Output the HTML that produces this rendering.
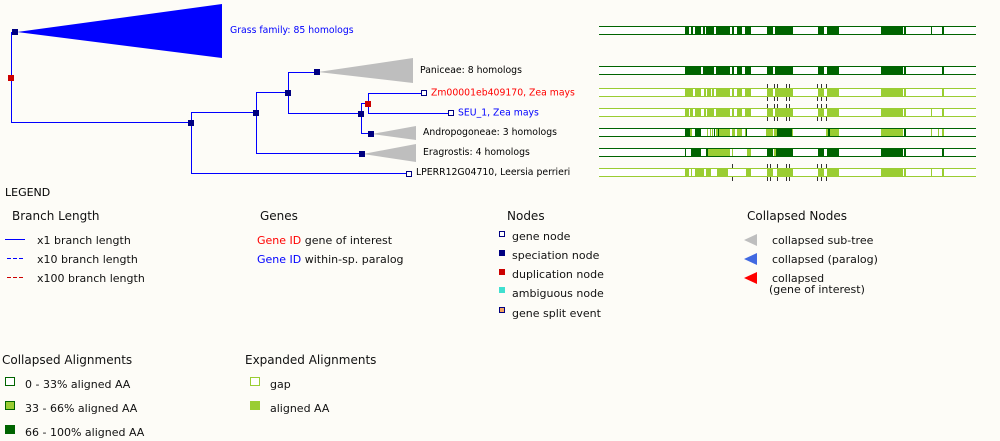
<!DOCTYPE html>
<html><head><meta charset="utf-8">
<style>
html,body{margin:0;padding:0;background:#fdfcf7;}
svg{display:block;}
text{font-family:"DejaVu Sans","Liberation Sans",sans-serif;}
</style></head>
<body>
<svg width="1000" height="441" viewBox="0 0 1000 441" xmlns="http://www.w3.org/2000/svg">
<rect x="0" y="0" width="1000" height="441" fill="#fdfcf7"/>

<!-- TREE -->
<polygon points="17,32 222,4 222,58" fill="#0000ff"/>
<polygon points="318,72 413,58 413,83" fill="#bebebe"/>
<polygon points="372,134 416,126 416,140" fill="#bebebe"/>
<polygon points="363,154 416,144 416,162" fill="#bebebe"/>

<g stroke="#0000ff" stroke-width="1" fill="none" shape-rendering="crispEdges">
<line x1="11.5" y1="32" x2="11.5" y2="123"/>
<line x1="11" y1="32.5" x2="15" y2="32.5"/>
<line x1="11" y1="122.5" x2="191" y2="122.5"/>
<line x1="191.5" y1="112" x2="191.5" y2="174"/>
<line x1="191" y1="112.5" x2="256" y2="112.5"/>
<line x1="191" y1="173.5" x2="408" y2="173.5"/>
<line x1="256.5" y1="92" x2="256.5" y2="154"/>
<line x1="256" y1="92.5" x2="288" y2="92.5"/>
<line x1="256" y1="153.5" x2="361" y2="153.5"/>
<line x1="288.5" y1="72" x2="288.5" y2="114"/>
<line x1="288" y1="72.5" x2="317" y2="72.5"/>
<line x1="288" y1="113.5" x2="361" y2="113.5"/>
<line x1="361.5" y1="104" x2="361.5" y2="134"/>
<line x1="361" y1="103.5" x2="368" y2="103.5"/>
<line x1="361" y1="133.5" x2="371" y2="133.5"/>
<line x1="368.5" y1="93" x2="368.5" y2="114"/>
<line x1="368" y1="93.5" x2="424" y2="93.5"/>
<line x1="368" y1="113.5" x2="451" y2="113.5"/>
</g>

<g shape-rendering="crispEdges">
<rect x="8" y="75" width="6" height="6" fill="#cc0000"/>
<rect x="12" y="29" width="6" height="6" fill="#000080"/>
<rect x="188" y="120" width="6" height="6" fill="#000080"/>
<rect x="253" y="110" width="6" height="6" fill="#000080"/>
<rect x="285" y="90" width="6" height="6" fill="#000080"/>
<rect x="314" y="69" width="6" height="6" fill="#000080"/>
<rect x="358" y="111" width="6" height="6" fill="#000080"/>
<rect x="368" y="131" width="6" height="6" fill="#000080"/>
<rect x="359" y="151" width="6" height="6" fill="#000080"/>
<rect x="365" y="101" width="6" height="6" fill="#cc0000"/>
<rect x="421.5" y="90.5" width="5" height="5" fill="#fff" stroke="#000080"/>
<rect x="448.5" y="110.5" width="5" height="5" fill="#fff" stroke="#000080"/>
<rect x="406.5" y="171.5" width="5" height="5" fill="#fff" stroke="#000080"/>
</g>

<g font-size="9.3">
<text x="230" y="33" fill="#0000ff">Grass family: 85 homologs</text>
<text x="420" y="73" fill="#000">Paniceae: 8 homologs</text>
<text x="431" y="95.5" fill="#ff0000">Zm00001eb409170, Zea mays</text>
<text x="458" y="115.5" fill="#0000ff">SEU_1, Zea mays</text>
<text x="423" y="135" fill="#000">Andropogoneae: 3 homologs</text>
<text x="423" y="155" fill="#000">Eragrostis: 4 homologs</text>
<text x="416" y="175" fill="#000">LPERR12G04710, Leersia perrieri</text>
</g>

<!-- ALIGNMENTS -->
<g shape-rendering="crispEdges">
<!-- row 1 -->
<rect x="599" y="26" width="377" height="9" fill="#fff"/>
<g fill="#006400">
<rect x="685" y="26" width="4" height="9"/><rect x="691" y="26" width="2" height="9"/><rect x="695" y="26" width="6" height="9"/><rect x="703" y="26" width="2" height="9"/><rect x="706" y="26" width="8" height="9"/><rect x="716" y="26" width="14" height="9"/><rect x="732" y="26" width="2" height="9"/><rect x="737" y="26" width="5" height="9"/><rect x="745" y="26" width="6" height="9"/><rect x="767" y="26" width="6" height="9"/><rect x="775" y="26" width="18" height="9"/><rect x="818" y="26" width="6" height="9"/><rect x="827" y="26" width="12" height="9"/><rect x="881" y="26" width="22" height="9"/><rect x="904" y="26" width="2" height="9"/><rect x="931" y="26" width="1" height="9"/><rect x="942" y="26" width="2" height="9"/>
<rect x="599" y="26" width="377" height="1"/><rect x="599" y="34" width="377" height="1"/>
</g>
<!-- row 2 -->
<rect x="599" y="66" width="377" height="9" fill="#fff"/>
<g fill="#006400">
<rect x="685" y="66" width="16" height="9"/><rect x="703" y="66" width="11" height="9"/><rect x="716" y="66" width="14" height="9"/><rect x="732" y="66" width="2" height="9"/><rect x="737" y="66" width="5" height="9"/><rect x="745" y="66" width="6" height="9"/><rect x="767" y="66" width="6" height="9"/><rect x="775" y="66" width="18" height="9"/><rect x="818" y="66" width="6" height="9"/><rect x="827" y="66" width="12" height="9"/><rect x="881" y="66" width="22" height="9"/><rect x="904" y="66" width="2" height="9"/><rect x="942" y="66" width="2" height="9"/>
<rect x="599" y="66" width="377" height="1"/><rect x="599" y="74" width="377" height="1"/>
</g>
<!-- row 3 -->
<rect x="599" y="88" width="377" height="9" fill="#fff"/>
<g fill="#9acd32">
<rect x="685" y="88" width="8" height="9"/><rect x="695" y="88" width="6" height="9"/><rect x="704" y="88" width="2" height="9"/><rect x="707" y="88" width="4" height="9"/><rect x="712" y="88" width="2" height="9"/><rect x="716" y="88" width="14" height="9"/><rect x="732" y="88" width="2" height="9"/><rect x="737" y="88" width="5" height="9"/><rect x="745" y="88" width="6" height="9"/><rect x="767" y="88" width="6" height="9"/><rect x="775" y="88" width="18" height="9"/><rect x="818" y="88" width="6" height="9"/><rect x="827" y="88" width="12" height="9"/><rect x="881" y="88" width="22" height="9"/><rect x="904" y="88" width="2" height="9"/><rect x="942" y="88" width="2" height="9"/>
<rect x="599" y="88" width="377" height="1"/><rect x="599" y="96" width="377" height="1"/>
</g>
<!-- row 4 -->
<rect x="599" y="108" width="377" height="9" fill="#fff"/>
<g fill="#9acd32">
<rect x="685" y="108" width="4" height="9"/><rect x="690" y="108" width="3" height="9"/><rect x="695" y="108" width="6" height="9"/><rect x="704" y="108" width="2" height="9"/><rect x="707" y="108" width="7" height="9"/><rect x="716" y="108" width="14" height="9"/><rect x="732" y="108" width="2" height="9"/><rect x="737" y="108" width="5" height="9"/><rect x="745" y="108" width="6" height="9"/><rect x="767" y="108" width="6" height="9"/><rect x="775" y="108" width="18" height="9"/><rect x="818" y="108" width="6" height="9"/><rect x="827" y="108" width="12" height="9"/><rect x="881" y="108" width="22" height="9"/><rect x="904" y="108" width="2" height="9"/><rect x="931" y="108" width="1" height="9"/><rect x="942" y="108" width="2" height="9"/>
<rect x="599" y="108" width="377" height="1"/><rect x="599" y="116" width="377" height="1"/>
</g>
<!-- row 5 -->
<rect x="599" y="128" width="377" height="9" fill="#fff"/>
<g fill="#9acd32">
<rect x="690" y="128" width="2" height="9"/><rect x="707" y="128" width="1" height="9"/><rect x="710" y="128" width="1" height="9"/><rect x="712" y="128" width="1" height="9"/><rect x="716" y="128" width="2" height="9"/><rect x="719" y="128" width="11" height="9"/><rect x="732" y="128" width="3" height="9"/><rect x="737" y="128" width="5" height="9"/><rect x="745" y="128" width="1" height="9"/><rect x="766" y="128" width="7" height="9"/><rect x="774" y="128" width="3" height="9"/><rect x="792" y="128" width="1" height="9"/><rect x="826" y="128" width="2" height="9"/><rect x="830" y="128" width="9" height="9"/><rect x="881" y="128" width="22" height="9"/><rect x="931" y="128" width="1" height="9"/><rect x="938" y="128" width="1" height="9"/><rect x="942" y="128" width="2" height="9"/>
</g>
<g fill="#006400">
<rect x="685" y="128" width="5" height="9"/><rect x="695" y="128" width="6" height="9"/><rect x="714" y="128" width="1" height="9"/><rect x="718" y="128" width="1" height="9"/><rect x="746" y="128" width="1" height="9"/><rect x="777" y="128" width="15" height="9"/><rect x="828" y="128" width="2" height="9"/><rect x="904" y="128" width="2" height="9"/>
<rect x="599" y="128" width="377" height="1"/><rect x="599" y="136" width="377" height="1"/>
</g>
<!-- row 6 -->
<rect x="599" y="148" width="377" height="9" fill="#fff"/>
<g fill="#9acd32">
<rect x="708" y="148" width="22" height="9"/><rect x="732" y="148" width="1" height="9"/><rect x="747" y="148" width="4" height="9"/><rect x="774" y="148" width="2" height="9"/>
</g>
<g fill="#006400">
<rect x="685" y="148" width="1" height="9"/><rect x="691" y="148" width="10" height="9"/><rect x="706" y="148" width="2" height="9"/><rect x="767" y="148" width="6" height="9"/><rect x="776" y="148" width="17" height="9"/><rect x="818" y="148" width="6" height="9"/><rect x="827" y="148" width="12" height="9"/><rect x="881" y="148" width="22" height="9"/><rect x="904" y="148" width="2" height="9"/><rect x="942" y="148" width="2" height="9"/>
<rect x="599" y="148" width="377" height="1"/><rect x="599" y="156" width="377" height="1"/>
</g>
<!-- row 7 -->
<rect x="599" y="168" width="377" height="9" fill="#fff"/>
<g fill="#9acd32">
<rect x="685" y="168" width="4" height="9"/><rect x="691" y="168" width="1" height="9"/><rect x="695" y="168" width="9" height="9"/><rect x="706" y="168" width="5" height="9"/><rect x="717" y="168" width="11" height="9"/><rect x="746" y="168" width="5" height="9"/><rect x="767" y="168" width="6" height="9"/><rect x="777" y="168" width="16" height="9"/><rect x="818" y="168" width="6" height="9"/><rect x="827" y="168" width="12" height="9"/><rect x="881" y="168" width="22" height="9"/><rect x="904" y="168" width="2" height="9"/><rect x="931" y="168" width="1" height="9"/><rect x="942" y="168" width="2" height="9"/>
<rect x="599" y="168" width="377" height="1"/><rect x="599" y="176" width="377" height="1"/>
</g>

<!-- tick marks -->
<g fill="#333">
<rect x="767" y="84" width="1" height="4"/><rect x="774" y="84" width="1" height="4"/><rect x="777" y="84" width="1" height="4"/><rect x="786" y="84" width="1" height="4"/><rect x="789" y="84" width="1" height="4"/><rect x="817" y="84" width="1" height="4"/><rect x="821" y="84" width="1" height="4"/><rect x="826" y="84" width="1" height="4"/>
<rect x="767" y="97" width="1" height="4"/><rect x="774" y="97" width="1" height="4"/><rect x="777" y="97" width="1" height="4"/><rect x="786" y="97" width="1" height="4"/><rect x="789" y="97" width="1" height="4"/><rect x="817" y="97" width="1" height="4"/><rect x="821" y="97" width="1" height="4"/><rect x="826" y="97" width="1" height="4"/>
<rect x="767" y="104" width="1" height="4"/><rect x="774" y="104" width="1" height="4"/><rect x="777" y="104" width="1" height="4"/><rect x="786" y="104" width="1" height="4"/><rect x="789" y="104" width="1" height="4"/><rect x="817" y="104" width="1" height="4"/><rect x="821" y="104" width="1" height="4"/><rect x="826" y="104" width="1" height="4"/>
<rect x="767" y="117" width="1" height="4"/><rect x="774" y="117" width="1" height="4"/><rect x="777" y="117" width="1" height="4"/><rect x="786" y="117" width="1" height="4"/><rect x="789" y="117" width="1" height="4"/><rect x="817" y="117" width="1" height="4"/><rect x="821" y="117" width="1" height="4"/><rect x="826" y="117" width="1" height="4"/>
<rect x="732" y="164" width="1" height="4"/><rect x="767" y="164" width="1" height="4"/><rect x="770" y="164" width="1" height="4"/><rect x="777" y="164" width="1" height="4"/><rect x="786" y="164" width="1" height="4"/><rect x="789" y="164" width="1" height="4"/><rect x="817" y="164" width="1" height="4"/><rect x="821" y="164" width="1" height="4"/><rect x="826" y="164" width="1" height="4"/>
<rect x="732" y="177" width="1" height="4"/><rect x="767" y="177" width="1" height="4"/><rect x="770" y="177" width="1" height="4"/><rect x="777" y="177" width="1" height="4"/><rect x="786" y="177" width="1" height="4"/><rect x="789" y="177" width="1" height="4"/><rect x="817" y="177" width="1" height="4"/><rect x="821" y="177" width="1" height="4"/><rect x="826" y="177" width="1" height="4"/>
</g>
</g>

<!-- LEGEND -->
<text x="5" y="196" font-size="11" fill="#000">LEGEND</text>

<text x="12" y="220" font-size="12" fill="#111">Branch Length</text>
<g shape-rendering="crispEdges">
<line x1="5" y1="239.5" x2="25" y2="239.5" stroke="#0000ff" stroke-width="1"/>
<line x1="7" y1="258.5" x2="24" y2="258.5" stroke="#0000ff" stroke-width="1" stroke-dasharray="4,2"/>
<line x1="7" y1="277.5" x2="24" y2="277.5" stroke="#cc0000" stroke-width="1" stroke-dasharray="4,2"/>
</g>
<g font-size="11" fill="#111">
<text x="37" y="244">x1 branch length</text>
<text x="37" y="263">x10 branch length</text>
<text x="37" y="282">x100 branch length</text>
</g>

<text x="260" y="220" font-size="12" fill="#111">Genes</text>
<g font-size="11" fill="#111">
<text x="257" y="244"><tspan fill="#ff0000">Gene ID</tspan> gene of interest</text>
<text x="257" y="263"><tspan fill="#0000ff">Gene ID</tspan> within-sp. paralog</text>
</g>

<text x="507" y="220" font-size="12" fill="#111">Nodes</text>
<g shape-rendering="crispEdges">
<rect x="499.5" y="231.5" width="5" height="5" fill="#fff" stroke="#000080"/>
<rect x="499" y="250" width="6" height="6" fill="#000080"/>
<rect x="499" y="269" width="6" height="6" fill="#cc0000"/>
<rect x="499" y="287" width="6" height="6" fill="#40e0d0"/>
<rect x="499.5" y="307.5" width="5" height="5" fill="#f4a460" stroke="#000080"/>
</g>
<g font-size="11" fill="#111">
<text x="512" y="240">gene node</text>
<text x="512" y="259">speciation node</text>
<text x="512" y="278">duplication node</text>
<text x="512" y="297">ambiguous node</text>
<text x="512" y="317">gene split event</text>
</g>

<text x="747" y="220" font-size="12" fill="#111">Collapsed Nodes</text>
<polygon points="744,240 757,234 757,246" fill="#bebebe"/>
<polygon points="744,259 757,253 757,265" fill="#4169e1"/>
<polygon points="744,278 757,272 757,284" fill="#ff0000"/>
<g font-size="11" fill="#111">
<text x="772" y="244">collapsed sub-tree</text>
<text x="772" y="263">collapsed (paralog)</text>
<text x="772" y="282">collapsed</text>
<text x="769" y="293">(gene of interest)</text>
</g>

<text x="2" y="364" font-size="12" fill="#111">Collapsed Alignments</text>
<g shape-rendering="crispEdges">
<rect x="5.5" y="377.5" width="9" height="8" fill="#fff" stroke="#006400"/>
<rect x="5.5" y="401.5" width="9" height="8" fill="#9acd32" stroke="#006400"/>
<rect x="5" y="425" width="10" height="9" fill="#006400"/>
</g>
<g font-size="11" fill="#111">
<text x="25" y="388">0 - 33% aligned AA</text>
<text x="25" y="412">33 - 66% aligned AA</text>
<text x="25" y="436">66 - 100% aligned AA</text>
</g>

<text x="245" y="364" font-size="12" fill="#111">Expanded Alignments</text>
<g shape-rendering="crispEdges">
<rect x="250.5" y="377.5" width="9" height="8" fill="#fff" stroke="#9acd32"/>
<rect x="250" y="401" width="10" height="9" fill="#9acd32"/>
</g>
<g font-size="11" fill="#111">
<text x="270" y="388">gap</text>
<text x="270" y="412">aligned AA</text>
</g>
</svg>
</body></html>
